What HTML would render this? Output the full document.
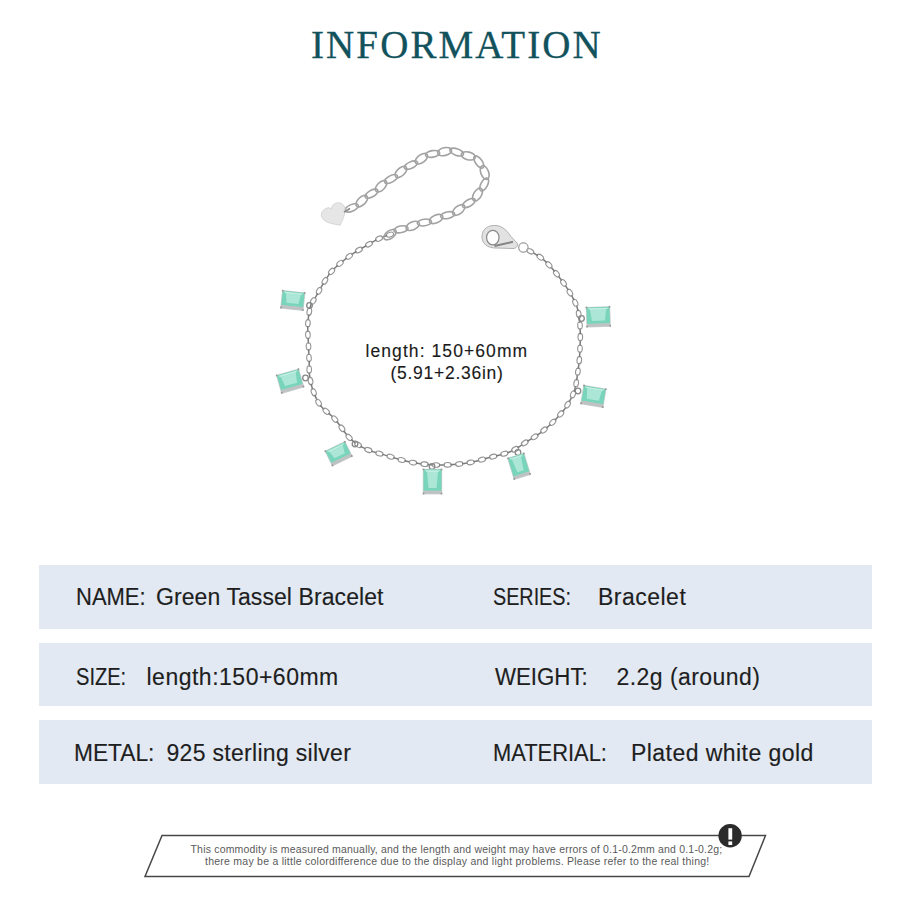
<!DOCTYPE html>
<html><head><meta charset="utf-8">
<style>
html,body{margin:0;padding:0;background:#fff;}
body{width:907px;height:907px;position:relative;overflow:hidden;font-family:"Liberation Sans",sans-serif;}
.t{position:absolute;white-space:nowrap;line-height:1;}
.box{position:absolute;left:39px;width:833px;background:#e2e9f2;}
svg{position:absolute;left:0;top:0;}
</style></head>
<body>
<svg width="907" height="907"><g fill="none" stroke="#939393" stroke-width="1.1"><ellipse cx="390.0" cy="234.6" rx="3.7" ry="2.3" transform="rotate(160 390.0 234.6)"/><line x1="387.2" y1="235.5" x2="381.8" y2="237.4" stroke="#7a7a7a" stroke-width="1.5"/><ellipse cx="379.1" cy="238.6" rx="3.7" ry="2.3" transform="rotate(154 379.1 238.6)"/><line x1="376.5" y1="239.9" x2="371.5" y2="242.7" stroke="#7a7a7a" stroke-width="1.5"/><ellipse cx="369.0" cy="244.2" rx="3.7" ry="2.3" transform="rotate(150 369.0 244.2)"/><line x1="366.5" y1="245.7" x2="361.4" y2="248.5" stroke="#7a7a7a" stroke-width="1.5"/><ellipse cx="358.9" cy="250.0" rx="3.7" ry="2.3" transform="rotate(150 358.9 250.0)"/><line x1="356.4" y1="251.4" x2="351.5" y2="254.6" stroke="#7a7a7a" stroke-width="1.5"/><ellipse cx="349.2" cy="256.3" rx="3.7" ry="2.3" transform="rotate(144 349.2 256.3)"/><line x1="346.8" y1="258.0" x2="342.2" y2="261.6" stroke="#7a7a7a" stroke-width="1.5"/><ellipse cx="340.0" cy="263.4" rx="3.7" ry="2.3" transform="rotate(140 340.0 263.4)"/><line x1="337.8" y1="265.3" x2="333.6" y2="269.2" stroke="#7a7a7a" stroke-width="1.5"/><ellipse cx="331.6" cy="271.4" rx="3.7" ry="2.3" transform="rotate(131 331.6 271.4)"/><line x1="329.7" y1="273.6" x2="326.4" y2="278.4" stroke="#7a7a7a" stroke-width="1.5"/><ellipse cx="324.9" cy="280.9" rx="3.7" ry="2.3" transform="rotate(122 324.9 280.9)"/><line x1="323.4" y1="283.3" x2="320.4" y2="288.3" stroke="#7a7a7a" stroke-width="1.5"/><ellipse cx="319.1" cy="290.9" rx="3.7" ry="2.3" transform="rotate(118 319.1 290.9)"/><line x1="317.7" y1="293.4" x2="314.9" y2="298.5" stroke="#7a7a7a" stroke-width="1.5"/><ellipse cx="313.2" cy="300.9" rx="3.7" ry="2.3" transform="rotate(124 313.2 300.9)"/><line x1="311.5" y1="303.3" x2="309.7" y2="308.8" stroke="#7a7a7a" stroke-width="1.5"/><ellipse cx="309.3" cy="311.7" rx="3.7" ry="2.3" transform="rotate(100 309.3 311.7)"/><line x1="308.8" y1="314.5" x2="308.1" y2="320.3" stroke="#7a7a7a" stroke-width="1.5"/><ellipse cx="307.9" cy="323.2" rx="3.7" ry="2.3" transform="rotate(94 307.9 323.2)"/><line x1="307.7" y1="326.1" x2="307.8" y2="331.9" stroke="#7a7a7a" stroke-width="1.5"/><ellipse cx="307.9" cy="334.8" rx="3.7" ry="2.3" transform="rotate(87 307.9 334.8)"/><line x1="308.1" y1="337.7" x2="308.4" y2="343.5" stroke="#7a7a7a" stroke-width="1.5"/><ellipse cx="308.5" cy="346.4" rx="3.7" ry="2.3" transform="rotate(88 308.5 346.4)"/><line x1="308.6" y1="349.3" x2="308.9" y2="355.0" stroke="#7a7a7a" stroke-width="1.5"/><ellipse cx="309.0" cy="357.9" rx="3.7" ry="2.3" transform="rotate(87 309.0 357.9)"/><line x1="309.2" y1="360.8" x2="309.3" y2="366.6" stroke="#7a7a7a" stroke-width="1.5"/><ellipse cx="309.2" cy="369.5" rx="3.7" ry="2.3" transform="rotate(90 309.2 369.5)"/><line x1="309.1" y1="372.5" x2="310.0" y2="378.2" stroke="#7a7a7a" stroke-width="1.5"/><ellipse cx="310.5" cy="381.0" rx="3.7" ry="2.3" transform="rotate(79 310.5 381.0)"/><line x1="311.1" y1="383.9" x2="312.6" y2="389.5" stroke="#7a7a7a" stroke-width="1.5"/><ellipse cx="313.7" cy="392.2" rx="3.7" ry="2.3" transform="rotate(69 313.7 392.2)"/><line x1="314.7" y1="394.9" x2="317.1" y2="400.2" stroke="#7a7a7a" stroke-width="1.5"/><ellipse cx="318.6" cy="402.7" rx="3.7" ry="2.3" transform="rotate(58 318.6 402.7)"/><line x1="320.1" y1="405.2" x2="324.0" y2="409.4" stroke="#7a7a7a" stroke-width="1.5"/><ellipse cx="326.3" cy="411.3" rx="3.7" ry="2.3" transform="rotate(41 326.3 411.3)"/><line x1="328.5" y1="413.1" x2="332.9" y2="417.0" stroke="#7a7a7a" stroke-width="1.5"/><ellipse cx="334.8" cy="419.1" rx="3.7" ry="2.3" transform="rotate(49 334.8 419.1)"/><line x1="336.7" y1="421.3" x2="340.2" y2="426.0" stroke="#7a7a7a" stroke-width="1.5"/><ellipse cx="341.9" cy="428.3" rx="3.7" ry="2.3" transform="rotate(54 341.9 428.3)"/><line x1="343.6" y1="430.7" x2="347.1" y2="435.3" stroke="#7a7a7a" stroke-width="1.5"/><ellipse cx="349.1" cy="437.4" rx="3.7" ry="2.3" transform="rotate(47 349.1 437.4)"/><line x1="351.1" y1="439.5" x2="355.6" y2="443.2" stroke="#7a7a7a" stroke-width="1.5"/><ellipse cx="358.1" cy="444.7" rx="3.7" ry="2.3" transform="rotate(32 358.1 444.7)"/><line x1="360.5" y1="446.3" x2="365.7" y2="448.9" stroke="#7a7a7a" stroke-width="1.5"/><ellipse cx="368.4" cy="450.0" rx="3.7" ry="2.3" transform="rotate(22 368.4 450.0)"/><line x1="371.1" y1="451.1" x2="376.6" y2="452.8" stroke="#7a7a7a" stroke-width="1.5"/><ellipse cx="379.4" cy="453.6" rx="3.7" ry="2.3" transform="rotate(16 379.4 453.6)"/><line x1="382.2" y1="454.4" x2="387.8" y2="455.9" stroke="#7a7a7a" stroke-width="1.5"/><ellipse cx="390.6" cy="456.7" rx="3.7" ry="2.3" transform="rotate(16 390.6 456.7)"/><line x1="393.3" y1="457.6" x2="398.9" y2="459.2" stroke="#7a7a7a" stroke-width="1.5"/><ellipse cx="401.7" cy="460.0" rx="3.7" ry="2.3" transform="rotate(15 401.7 460.0)"/><line x1="404.5" y1="460.8" x2="410.1" y2="462.1" stroke="#7a7a7a" stroke-width="1.5"/><ellipse cx="413.0" cy="462.6" rx="3.7" ry="2.3" transform="rotate(10 413.0 462.6)"/><line x1="415.8" y1="463.1" x2="421.6" y2="463.9" stroke="#7a7a7a" stroke-width="1.5"/><ellipse cx="424.5" cy="464.2" rx="3.7" ry="2.3" transform="rotate(6 424.5 464.2)"/><line x1="427.4" y1="464.5" x2="433.1" y2="464.9" stroke="#7a7a7a" stroke-width="1.5"/><ellipse cx="436.0" cy="465.0" rx="3.7" ry="2.3" transform="rotate(2 436.0 465.0)"/><line x1="438.9" y1="465.0" x2="444.7" y2="465.0" stroke="#7a7a7a" stroke-width="1.5"/><ellipse cx="447.6" cy="464.8" rx="3.7" ry="2.3" transform="rotate(-2 447.6 464.8)"/><line x1="450.5" y1="464.7" x2="456.3" y2="464.3" stroke="#7a7a7a" stroke-width="1.5"/><ellipse cx="459.2" cy="464.0" rx="3.7" ry="2.3" transform="rotate(-6 459.2 464.0)"/><line x1="462.1" y1="463.7" x2="467.8" y2="462.9" stroke="#7a7a7a" stroke-width="1.5"/><ellipse cx="470.7" cy="462.4" rx="3.7" ry="2.3" transform="rotate(-11 470.7 462.4)"/><line x1="473.5" y1="461.8" x2="479.2" y2="460.4" stroke="#7a7a7a" stroke-width="1.5"/><ellipse cx="482.0" cy="459.6" rx="3.7" ry="2.3" transform="rotate(-16 482.0 459.6)"/><line x1="484.7" y1="458.8" x2="490.3" y2="457.3" stroke="#7a7a7a" stroke-width="1.5"/><ellipse cx="493.2" cy="456.6" rx="3.7" ry="2.3" transform="rotate(-14 493.2 456.6)"/><line x1="496.0" y1="455.9" x2="501.6" y2="454.5" stroke="#7a7a7a" stroke-width="1.5"/><ellipse cx="504.4" cy="453.7" rx="3.7" ry="2.3" transform="rotate(-17 504.4 453.7)"/><line x1="507.2" y1="452.9" x2="512.6" y2="450.7" stroke="#7a7a7a" stroke-width="1.5"/><ellipse cx="515.1" cy="449.3" rx="3.7" ry="2.3" transform="rotate(-30 515.1 449.3)"/><line x1="517.6" y1="447.8" x2="522.4" y2="444.5" stroke="#7a7a7a" stroke-width="1.5"/><ellipse cx="524.8" cy="442.9" rx="3.7" ry="2.3" transform="rotate(-33 524.8 442.9)"/><line x1="527.2" y1="441.4" x2="532.2" y2="438.3" stroke="#7a7a7a" stroke-width="1.5"/><ellipse cx="534.6" cy="436.8" rx="3.7" ry="2.3" transform="rotate(-32 534.6 436.8)"/><line x1="537.1" y1="435.3" x2="541.8" y2="431.9" stroke="#7a7a7a" stroke-width="1.5"/><ellipse cx="544.0" cy="430.0" rx="3.7" ry="2.3" transform="rotate(-39 544.0 430.0)"/><line x1="546.3" y1="428.2" x2="550.6" y2="424.3" stroke="#7a7a7a" stroke-width="1.5"/><ellipse cx="552.7" cy="422.3" rx="3.7" ry="2.3" transform="rotate(-44 552.7 422.3)"/><line x1="554.8" y1="420.3" x2="558.8" y2="416.1" stroke="#7a7a7a" stroke-width="1.5"/><ellipse cx="560.7" cy="413.9" rx="3.7" ry="2.3" transform="rotate(-49 560.7 413.9)"/><line x1="562.6" y1="411.7" x2="566.1" y2="407.1" stroke="#7a7a7a" stroke-width="1.5"/><ellipse cx="567.6" cy="404.6" rx="3.7" ry="2.3" transform="rotate(-58 567.6 404.6)"/><line x1="569.1" y1="402.2" x2="571.8" y2="397.0" stroke="#7a7a7a" stroke-width="1.5"/><ellipse cx="573.0" cy="394.3" rx="3.7" ry="2.3" transform="rotate(-67 573.0 394.3)"/><line x1="574.1" y1="391.7" x2="575.7" y2="386.1" stroke="#7a7a7a" stroke-width="1.5"/><ellipse cx="576.2" cy="383.2" rx="3.7" ry="2.3" transform="rotate(-80 576.2 383.2)"/><line x1="576.6" y1="380.4" x2="577.5" y2="374.6" stroke="#7a7a7a" stroke-width="1.5"/><ellipse cx="577.9" cy="371.7" rx="3.7" ry="2.3" transform="rotate(-82 577.9 371.7)"/><line x1="578.3" y1="368.9" x2="579.0" y2="363.1" stroke="#7a7a7a" stroke-width="1.5"/><ellipse cx="579.3" cy="360.2" rx="3.7" ry="2.3" transform="rotate(-85 579.3 360.2)"/><line x1="579.5" y1="357.3" x2="579.9" y2="351.6" stroke="#7a7a7a" stroke-width="1.5"/><ellipse cx="580.0" cy="348.7" rx="3.7" ry="2.3" transform="rotate(-88 580.0 348.7)"/><line x1="580.1" y1="345.8" x2="580.3" y2="340.0" stroke="#7a7a7a" stroke-width="1.5"/><ellipse cx="580.3" cy="337.1" rx="3.7" ry="2.3" transform="rotate(-90 580.3 337.1)"/><line x1="580.3" y1="334.2" x2="580.1" y2="328.4" stroke="#7a7a7a" stroke-width="1.5"/><ellipse cx="580.0" cy="325.5" rx="3.7" ry="2.3" transform="rotate(-93 580.0 325.5)"/><line x1="579.8" y1="322.6" x2="579.2" y2="316.8" stroke="#7a7a7a" stroke-width="1.5"/><ellipse cx="578.7" cy="313.9" rx="3.7" ry="2.3" transform="rotate(-100 578.7 313.9)"/><line x1="578.2" y1="311.1" x2="576.5" y2="305.5" stroke="#7a7a7a" stroke-width="1.5"/><ellipse cx="575.3" cy="302.9" rx="3.7" ry="2.3" transform="rotate(-113 575.3 302.9)"/><line x1="574.1" y1="300.2" x2="571.4" y2="295.1" stroke="#7a7a7a" stroke-width="1.5"/><ellipse cx="569.9" cy="292.6" rx="3.7" ry="2.3" transform="rotate(-121 569.9 292.6)"/><line x1="568.4" y1="290.1" x2="565.2" y2="285.3" stroke="#7a7a7a" stroke-width="1.5"/><ellipse cx="563.5" cy="282.9" rx="3.7" ry="2.3" transform="rotate(-125 563.5 282.9)"/><line x1="561.8" y1="280.6" x2="558.3" y2="276.0" stroke="#7a7a7a" stroke-width="1.5"/><ellipse cx="556.5" cy="273.7" rx="3.7" ry="2.3" transform="rotate(-129 556.5 273.7)"/><line x1="554.7" y1="271.4" x2="550.9" y2="267.1" stroke="#7a7a7a" stroke-width="1.5"/><ellipse cx="548.9" cy="264.9" rx="3.7" ry="2.3" transform="rotate(-133 548.9 264.9)"/><line x1="546.9" y1="262.8" x2="542.7" y2="258.9" stroke="#7a7a7a" stroke-width="1.5"/><ellipse cx="540.3" cy="257.2" rx="3.7" ry="2.3" transform="rotate(-145 540.3 257.2)"/><line x1="537.9" y1="255.6" x2="532.9" y2="252.7" stroke="#7a7a7a" stroke-width="1.5"/><ellipse cx="530.3" cy="251.3" rx="3.7" ry="2.3" transform="rotate(-152 530.3 251.3)"/></g><g fill="none" stroke="#a2a2a2" stroke-width="1.6"><ellipse cx="390.0" cy="234.6" rx="7.2" ry="3.9" transform="rotate(-35 390.0 234.6)"/><ellipse cx="401.0" cy="229.3" rx="7.2" ry="3.3" transform="rotate(-12 401.0 229.3)"/><ellipse cx="412.7" cy="225.9" rx="7.2" ry="3.9" transform="rotate(-24 412.7 225.9)"/><ellipse cx="424.4" cy="222.5" rx="7.2" ry="3.3" transform="rotate(-8 424.4 222.5)"/><ellipse cx="436.1" cy="219.0" rx="7.2" ry="3.9" transform="rotate(-24 436.1 219.0)"/><ellipse cx="447.7" cy="215.2" rx="7.2" ry="3.3" transform="rotate(-12 447.7 215.2)"/><ellipse cx="458.7" cy="210.0" rx="7.2" ry="3.9" transform="rotate(-38 458.7 210.0)"/><ellipse cx="468.8" cy="203.1" rx="7.2" ry="3.3" transform="rotate(-30 468.8 203.1)"/><ellipse cx="477.5" cy="194.6" rx="7.2" ry="3.9" transform="rotate(-59 477.5 194.6)"/><ellipse cx="484.2" cy="184.5" rx="7.2" ry="3.3" transform="rotate(-62 484.2 184.5)"/><ellipse cx="484.7" cy="172.5" rx="7.2" ry="3.9" transform="rotate(-111 484.7 172.5)"/><ellipse cx="478.8" cy="162.0" rx="7.2" ry="3.3" transform="rotate(-126 478.8 162.0)"/><ellipse cx="468.3" cy="155.9" rx="7.2" ry="3.9" transform="rotate(-167 468.3 155.9)"/><ellipse cx="456.7" cy="152.1" rx="7.2" ry="3.3" transform="rotate(-160 456.7 152.1)"/><ellipse cx="444.6" cy="151.6" rx="7.2" ry="3.9" transform="rotate(167 444.6 151.6)"/><ellipse cx="432.6" cy="153.9" rx="7.2" ry="3.3" transform="rotate(171 432.6 153.9)"/><ellipse cx="421.4" cy="158.7" rx="7.2" ry="3.9" transform="rotate(143 421.4 158.7)"/><ellipse cx="411.0" cy="165.1" rx="7.2" ry="3.3" transform="rotate(155 411.0 165.1)"/><ellipse cx="400.9" cy="171.9" rx="7.2" ry="3.9" transform="rotate(137 400.9 171.9)"/><ellipse cx="391.0" cy="179.0" rx="7.2" ry="3.3" transform="rotate(152 391.0 179.0)"/><ellipse cx="381.1" cy="186.2" rx="7.2" ry="3.9" transform="rotate(135 381.1 186.2)"/><ellipse cx="371.5" cy="193.7" rx="7.2" ry="3.3" transform="rotate(150 371.5 193.7)"/><ellipse cx="361.8" cy="201.1" rx="7.2" ry="3.9" transform="rotate(136 361.8 201.1)"/><ellipse cx="351.7" cy="207.9" rx="7.2" ry="3.3" transform="rotate(156 351.7 207.9)"/></g><g transform="translate(335 215.5) rotate(-28) scale(1.08 1.0)"><path d="M0,11 C-6,6 -11.5,1.5 -11.5,-4 C-11.5,-8.5 -8,-10.5 -5,-10.5 C-2,-10.5 -0.5,-9 0,-7 C0.5,-9 2,-10.5 5,-10.5 C8,-10.5 11.5,-8.5 11.5,-4 C11.5,1.5 6,6 0,11 Z" fill="#e6e6e6" stroke="#d3d3d3" stroke-width="0.8"/></g><line x1="344" y1="212" x2="350" y2="208.5" stroke="#8a8a8a" stroke-width="1.8"/><path d="M497,248 C487,248.5 481.5,243 482,236 C482.5,228.5 488.5,225 496,225.5 C503,226 508,232 511,236.5 L517,243 C518.5,245.5 516.5,248.5 513,248.5 Z" fill="#e2e2e2" stroke="#b0b0b0" stroke-width="1"/><ellipse cx="492.8" cy="237.6" rx="6.2" ry="7.3" fill="#fff" stroke="#8a8a8a" stroke-width="1.2"/><path d="M494.5,246 L513,241.8" stroke="#858585" stroke-width="2"/><circle cx="523.4" cy="247.5" r="4.7" fill="none" stroke="#a8a8a8" stroke-width="1.4"/><circle cx="309.5" cy="305.5" r="2.8" fill="none" stroke="#888" stroke-width="1.3"/><circle cx="305.5" cy="378" r="2.8" fill="none" stroke="#888" stroke-width="1.3"/><circle cx="355" cy="444" r="2.8" fill="none" stroke="#888" stroke-width="1.3"/><circle cx="432" cy="466.5" r="2.8" fill="none" stroke="#888" stroke-width="1.3"/><circle cx="581.5" cy="318.5" r="2.8" fill="none" stroke="#888" stroke-width="1.3"/><circle cx="578" cy="391" r="2.8" fill="none" stroke="#888" stroke-width="1.3"/><circle cx="518" cy="452.5" r="2.8" fill="none" stroke="#888" stroke-width="1.3"/><g transform="translate(292.8 300.3) rotate(6)"><rect x="-11.7" y="-9.1" width="23.4" height="18.6" fill="#c9cccc"/><rect x="-11.0" y="-8.5" width="22" height="14.4" fill="#78d5bb"/><polygon points="-7.5,-6.0 7.5,-6.0 6.0,3.0 -6.0,3.0" fill="#ace6d6"/><polygon points="-10.0,-7.7 10.0,-7.7 7.5,-6.0 -7.5,-6.0" fill="#c2eee2"/><rect x="-11.0" y="5.9" width="22" height="2.9" fill="#bfc2c2"/><circle cx="-11.0" cy="-8.5" r="1.0" fill="#9a9a9a"/><circle cx="11.0" cy="-8.5" r="1.0" fill="#9a9a9a"/><circle cx="-11.0" cy="8.5" r="1.0" fill="#9a9a9a"/><circle cx="11.0" cy="8.5" r="1.0" fill="#9a9a9a"/></g><g transform="translate(290.1 381) rotate(-16)"><rect x="-11.95" y="-9.6" width="23.9" height="19.6" fill="#c9cccc"/><rect x="-11.25" y="-9.0" width="22.5" height="15.4" fill="#78d5bb"/><polygon points="-7.75,-6.5 7.75,-6.5 6.25,3.5 -6.25,3.5" fill="#ace6d6"/><polygon points="-10.25,-8.2 10.25,-8.2 7.75,-6.5 -7.75,-6.5" fill="#c2eee2"/><rect x="-11.25" y="6.4" width="22.5" height="2.9" fill="#bfc2c2"/><circle cx="-11.25" cy="-9.0" r="1.0" fill="#9a9a9a"/><circle cx="11.25" cy="-9.0" r="1.0" fill="#9a9a9a"/><circle cx="-11.25" cy="9.0" r="1.0" fill="#9a9a9a"/><circle cx="11.25" cy="9.0" r="1.0" fill="#9a9a9a"/></g><g transform="translate(338.6 453.6) rotate(-26)"><rect x="-11.45" y="-8.5" width="22.9" height="17.400000000000002" fill="#c9cccc"/><rect x="-10.75" y="-7.9" width="21.5" height="13.200000000000001" fill="#78d5bb"/><polygon points="-7.25,-5.4 7.25,-5.4 5.75,2.4000000000000004 -5.75,2.4000000000000004" fill="#ace6d6"/><polygon points="-9.75,-7.1000000000000005 9.75,-7.1000000000000005 7.25,-5.4 -7.25,-5.4" fill="#c2eee2"/><rect x="-10.75" y="5.300000000000001" width="21.5" height="2.9" fill="#bfc2c2"/><circle cx="-10.75" cy="-7.9" r="1.0" fill="#9a9a9a"/><circle cx="10.75" cy="-7.9" r="1.0" fill="#9a9a9a"/><circle cx="-10.75" cy="7.9" r="1.0" fill="#9a9a9a"/><circle cx="10.75" cy="7.9" r="1.0" fill="#9a9a9a"/></g><g transform="translate(432.5 481.4) rotate(0)"><rect x="-9.7" y="-12.6" width="19.4" height="25.6" fill="#c9cccc"/><rect x="-9.0" y="-12.0" width="18" height="21.4" fill="#78d5bb"/><polygon points="-5.5,-9.5 5.5,-9.5 4.0,6.5 -4.0,6.5" fill="#ace6d6"/><polygon points="-8.0,-11.2 8.0,-11.2 5.5,-9.5 -5.5,-9.5" fill="#c2eee2"/><rect x="-9.0" y="9.4" width="18" height="2.9" fill="#bfc2c2"/><circle cx="-9.0" cy="-12.0" r="1.0" fill="#9a9a9a"/><circle cx="9.0" cy="-12.0" r="1.0" fill="#9a9a9a"/><circle cx="-9.0" cy="12.0" r="1.0" fill="#9a9a9a"/><circle cx="9.0" cy="12.0" r="1.0" fill="#9a9a9a"/></g><g transform="translate(598.3 316.7) rotate(-2)"><rect x="-12.2" y="-10.1" width="24.4" height="20.6" fill="#c9cccc"/><rect x="-11.5" y="-9.5" width="23" height="16.4" fill="#78d5bb"/><polygon points="-8.0,-7.0 8.0,-7.0 6.5,4.0 -6.5,4.0" fill="#ace6d6"/><polygon points="-10.5,-8.7 10.5,-8.7 8.0,-7.0 -8.0,-7.0" fill="#c2eee2"/><rect x="-11.5" y="6.9" width="23" height="2.9" fill="#bfc2c2"/><circle cx="-11.5" cy="-9.5" r="1.0" fill="#9a9a9a"/><circle cx="11.5" cy="-9.5" r="1.0" fill="#9a9a9a"/><circle cx="-11.5" cy="9.5" r="1.0" fill="#9a9a9a"/><circle cx="11.5" cy="9.5" r="1.0" fill="#9a9a9a"/></g><g transform="translate(593.4 396.2) rotate(9.5)"><rect x="-11.7" y="-9.6" width="23.4" height="19.6" fill="#c9cccc"/><rect x="-11.0" y="-9.0" width="22" height="15.4" fill="#78d5bb"/><polygon points="-7.5,-6.5 7.5,-6.5 6.0,3.5 -6.0,3.5" fill="#ace6d6"/><polygon points="-10.0,-8.2 10.0,-8.2 7.5,-6.5 -7.5,-6.5" fill="#c2eee2"/><rect x="-11.0" y="6.4" width="22" height="2.9" fill="#bfc2c2"/><circle cx="-11.0" cy="-9.0" r="1.0" fill="#9a9a9a"/><circle cx="11.0" cy="-9.0" r="1.0" fill="#9a9a9a"/><circle cx="-11.0" cy="9.0" r="1.0" fill="#9a9a9a"/><circle cx="11.0" cy="9.0" r="1.0" fill="#9a9a9a"/></g><g transform="translate(519 466.2) rotate(-17)"><rect x="-8.95" y="-11.35" width="17.9" height="23.1" fill="#c9cccc"/><rect x="-8.25" y="-10.75" width="16.5" height="18.9" fill="#78d5bb"/><polygon points="-4.75,-8.25 4.75,-8.25 3.25,5.25 -3.25,5.25" fill="#ace6d6"/><polygon points="-7.25,-9.95 7.25,-9.95 4.75,-8.25 -4.75,-8.25" fill="#c2eee2"/><rect x="-8.25" y="8.15" width="16.5" height="2.9" fill="#bfc2c2"/><circle cx="-8.25" cy="-10.75" r="1.0" fill="#9a9a9a"/><circle cx="8.25" cy="-10.75" r="1.0" fill="#9a9a9a"/><circle cx="-8.25" cy="10.75" r="1.0" fill="#9a9a9a"/><circle cx="8.25" cy="10.75" r="1.0" fill="#9a9a9a"/></g></svg>
<div class="box" style="top:565px;height:64px;"></div>
<div class="box" style="top:643px;height:63px;"></div>
<div class="box" style="top:720px;height:64px;"></div>
<svg width="907" height="907">
<polygon points="162,835.5 765.5,835.5 749,876.5 145,876.5" fill="none" stroke="#484848" stroke-width="1.5"/>
<circle cx="730.1" cy="835.8" r="11.7" fill="#2b2b2b"/>
<rect x="728.4" y="828.2" width="3.8" height="11.4" fill="#fff"/>
<rect x="728.4" y="841.4" width="3.8" height="3.6" fill="#fff"/>
</svg>
<div class="t" id="title" style="left:311.00px;top:24.64px;font-family:'Liberation Serif',serif;font-size:39px;color:#12525c;letter-spacing:2.100px;-webkit-text-stroke:0.3px #12525c">INFORMATION</div>
<div class="t" id="len1" style="left:365.50px;top:342.52px;font-family:'Liberation Sans',sans-serif;font-size:17.5px;color:#1a1a1a;letter-spacing:1.080px;-webkit-text-stroke:0.12px #1a1a1a">length: 150+60mm</div>
<div class="t" id="len2" style="left:390.50px;top:364.72px;font-family:'Liberation Sans',sans-serif;font-size:17.5px;color:#1a1a1a;letter-spacing:0.733px;-webkit-text-stroke:0.12px #1a1a1a">(5.91+2.36in)</div>
<div class="t" id="r1a" style="left:76.00px;top:586.40px;font-family:'Liberation Sans',sans-serif;font-size:23px;color:#1e1e1e;letter-spacing:0.000px;-webkit-text-stroke:0.15px #1e1e1e;transform:scaleX(0.9558);transform-origin:0 0">NAME:</div>
<div class="t" id="r1b" style="left:156.00px;top:586.40px;font-family:'Liberation Sans',sans-serif;font-size:23px;color:#1e1e1e;letter-spacing:0.080px;-webkit-text-stroke:0.15px #1e1e1e">Green Tassel Bracelet</div>
<div class="t" id="r1c" style="left:493.00px;top:586.40px;font-family:'Liberation Sans',sans-serif;font-size:23px;color:#1e1e1e;letter-spacing:0.000px;-webkit-text-stroke:0.15px #1e1e1e;transform:scaleX(0.8591);transform-origin:0 0">SERIES:</div>
<div class="t" id="r1d" style="left:598.00px;top:586.40px;font-family:'Liberation Sans',sans-serif;font-size:23px;color:#1e1e1e;letter-spacing:0.486px;-webkit-text-stroke:0.15px #1e1e1e">Bracelet</div>
<div class="t" id="r2a" style="left:75.50px;top:665.70px;font-family:'Liberation Sans',sans-serif;font-size:23px;color:#1e1e1e;letter-spacing:0.000px;-webkit-text-stroke:0.15px #1e1e1e;transform:scaleX(0.8727);transform-origin:0 0">SIZE:</div>
<div class="t" id="r2b" style="left:146.50px;top:665.70px;font-family:'Liberation Sans',sans-serif;font-size:23px;color:#1e1e1e;letter-spacing:0.500px;-webkit-text-stroke:0.15px #1e1e1e">length:150+60mm</div>
<div class="t" id="r2c" style="left:494.50px;top:665.70px;font-family:'Liberation Sans',sans-serif;font-size:23px;color:#1e1e1e;letter-spacing:0.000px;-webkit-text-stroke:0.15px #1e1e1e;transform:scaleX(0.9681);transform-origin:0 0">WEIGHT:</div>
<div class="t" id="r2d" style="left:616.50px;top:665.70px;font-family:'Liberation Sans',sans-serif;font-size:23px;color:#1e1e1e;letter-spacing:0.450px;-webkit-text-stroke:0.15px #1e1e1e">2.2g (around)</div>
<div class="t" id="r3a" style="left:73.50px;top:742.20px;font-family:'Liberation Sans',sans-serif;font-size:23px;color:#1e1e1e;letter-spacing:0.000px;-webkit-text-stroke:0.15px #1e1e1e;transform:scaleX(0.9885);transform-origin:0 0">METAL:</div>
<div class="t" id="r3b" style="left:166.50px;top:742.20px;font-family:'Liberation Sans',sans-serif;font-size:23px;color:#1e1e1e;letter-spacing:0.300px;-webkit-text-stroke:0.15px #1e1e1e">925 sterling silver</div>
<div class="t" id="r3c" style="left:492.50px;top:742.20px;font-family:'Liberation Sans',sans-serif;font-size:23px;color:#1e1e1e;letter-spacing:0.000px;-webkit-text-stroke:0.15px #1e1e1e;transform:scaleX(0.9518);transform-origin:0 0">MATERIAL:</div>
<div class="t" id="r3d" style="left:631.00px;top:742.20px;font-family:'Liberation Sans',sans-serif;font-size:23px;color:#1e1e1e;letter-spacing:0.450px;-webkit-text-stroke:0.15px #1e1e1e">Plated white gold</div>
<div class="t" id="n1" style="left:190.50px;top:844.08px;font-family:'Liberation Sans',sans-serif;font-size:10.5px;color:#5a5a5a;letter-spacing:0.187px;">This commodity is measured manually, and the length and weight may have errors of 0.1-0.2mm and 0.1-0.2g;</div>
<div class="t" id="n2" style="left:205.00px;top:855.98px;font-family:'Liberation Sans',sans-serif;font-size:10.5px;color:#5a5a5a;letter-spacing:0.247px;">there may be a little colordifference due to the display and light problems. Please refer to the real thing!</div>
</body></html>
